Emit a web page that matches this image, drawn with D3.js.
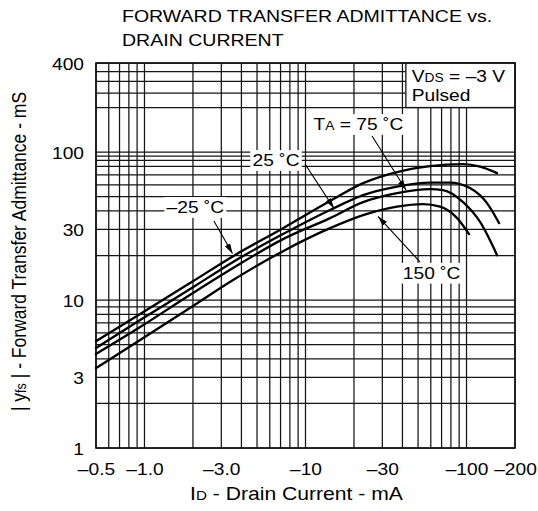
<!DOCTYPE html>
<html><head><meta charset="utf-8">
<script src="https://cdn.jsdelivr.net/npm/d3@7"></script>
<style>body{margin:0;background:#fff} svg{display:block}</style>
</head><body>
<svg id="c" width="538" height="511"></svg>
<script>
// ---------- data ----------
const xTicks = [0.5, 1, 3, 10, 30, 100, 200];
const xTickLabels = ["\u20130.5", "\u20131.0", "\u20133.0", "\u201310", "\u201330", "\u2013100", "\u2013200"];
const yTicks = [1, 3, 10, 30, 100, 400];
const yTickLabels = ["1", "3", "10", "30", "100", "400"];
const xGrid = [0.5,0.6,0.7,0.8,0.9,1,2,3,4,5,6,7,8,9,10,20,30,40,50,60,70,80,90,100,200];
const yGrid = [1,2,3,4,5,6,7,8,9,10,20,30,40,50,60,70,80,88,94,100,200,250,300,350,400];

const id_m25  = [0.5, 0.94, 2.0, 3.55, 7.25, 14.2, 22.8, 37, 59.4, 95.2, 121.4, 154.8];
const yfs_m25 = [5.28, 8.04, 13.4, 19.8, 30.6, 46.7, 61.7, 73.3, 80.4, 83.0, 79.8, 72.1];
const id_25   = [0.5, 0.94, 2.0, 3.55, 7.25, 14.2, 22.8, 37, 59.4, 79, 105, 134, 159.3];
const yfs_25  = [4.74, 7.33, 12.2, 18.1, 27.9, 40.6, 51.2, 58.5, 62.2, 62.2, 57.1, 45.2, 33.1];
const id_75   = [0.5, 0.94, 2.0, 3.55, 7.25, 14.2, 22.8, 37, 59.4, 71.5, 95.2, 121.4, 154.8];
const yfs_75  = [4.32, 6.57, 11.15, 16.45, 25.8, 35.8, 45.9, 52.8, 56.2, 55.4, 45.9, 33.7, 20.1];
const id_150  = [0.5, 0.94, 2.0, 3.55, 7.25, 14.2, 22.8, 37, 53.7, 68.5, 87.4, 103.7];
const yfs_150 = [3.47, 5.37, 9.11, 13.65, 21.4, 30.6, 37.5, 42.8, 44.5, 42.8, 35.8, 27.9];

// annotations (data coordinates)
const labelParts = [
  [{t:"\u201325 \u02DAC"}],
  [{t:"25 \u02DAC"}],
  [{t:"T"},{t:"A",sub:true},{t:" = 75 \u02DAC"}],
  [{t:"150 \u02DAC"}]
];
const labelId  = [2.07, 6.56, 21.3, 60.7];
const labelYfs = [38.7, 80.4, 140.8, 13.9];
const arrowFromId  = [2.70, 9.93, 25.9, 51.5];
const arrowFromYfs = [34.2, 83.0, 128.3, 18.06];
const arrowToId    = [3.52, 15.0, 42.1, 28.2];
const arrowToYfs   = [20.6, 41.8, 55.4, 36.7];
const legendBoxId  = [42, 200];
const legendBoxYfs = [200, 400];
const legendTextId = 45.7;
const legendTextYfs = [298.5, 221.1];

// ---------- setup ----------
const W = 538, H = 511;
const M = {l: 96, r: 515, t: 63, b: 448};
const SX = 1.13;
const FONT = "'Liberation Sans', Arial, Helvetica, sans-serif";
const svg = d3.select("#c");
const x = d3.scaleLog().domain([0.5, 200]).range([M.l, M.r]);
const y = d3.scaleLog().domain([1, 400]).range([M.b, M.t]);

svg.append("rect").attr("width", W).attr("height", H).attr("fill", "#fff");

function stext(parent, px, py, parts, size, anchor) {
  const g = parent.append("g").attr("transform", `translate(${px},${py}) scale(${SX},1)`);
  const t = g.append("text").attr("font-family", FONT).attr("font-size", size)
    .attr("text-anchor", anchor || "start").attr("fill", "#000");
  parts.forEach(p => {
    const ts = t.append("tspan").text(p.t);
    if (p.sub) ts.attr("font-size", size * 0.72);
  });
  return {g, t};
}

// ---------- grid ----------
const grid = svg.append("g").attr("stroke", "#151515").attr("stroke-width", 1.25);
grid.selectAll("line.gv").data(xGrid).join("line").attr("class", "gv")
  .attr("x1", d => x(d)).attr("x2", d => x(d)).attr("y1", M.t).attr("y2", M.b);
grid.selectAll("line.gh").data(yGrid).join("line").attr("class", "gh")
  .attr("y1", d => y(d)).attr("y2", d => y(d)).attr("x1", M.l).attr("x2", M.r);

// legend box
svg.append("rect")
  .attr("x", x(legendBoxId[0])).attr("y", y(legendBoxYfs[1]))
  .attr("width", x(legendBoxId[1]) - x(legendBoxId[0]))
  .attr("height", y(legendBoxYfs[0]) - y(legendBoxYfs[1]))
  .attr("fill", "#fff").attr("stroke", "#151515").attr("stroke-width", 1.3);
stext(svg, x(legendTextId), y(legendTextYfs[0]), [{t:"V"},{t:"DS",sub:true},{t:" = \u20133 V"}], 17);
stext(svg, x(legendTextId), y(legendTextYfs[1]), [{t:"Pulsed"}], 17);

// frame
svg.append("rect").attr("x", M.l).attr("y", M.t).attr("width", M.r - M.l).attr("height", M.b - M.t)
  .attr("fill", "none").attr("stroke", "#111").attr("stroke-width", 1.6);

// ---------- curves ----------
const series = [
  d3.zip(id_m25, yfs_m25), d3.zip(id_25, yfs_25), d3.zip(id_75, yfs_75), d3.zip(id_150, yfs_150)
];
const line = d3.line().x(d => x(d[0])).y(d => y(d[1])).curve(d3.curveMonotoneX);
svg.append("g").selectAll("path").data(series).join("path")
  .attr("d", line).attr("fill", "none").attr("stroke", "#000").attr("stroke-width", 2.3)
  .attr("stroke-linecap", "round");

// ---------- labels ----------
labelParts.forEach((parts, i) => {
  const {g, t} = stext(svg, x(labelId[i]), y(labelYfs[i]), parts, 17, "middle");
  const bb = t.node().getBBox();
  g.insert("rect", "text").attr("x", bb.x - 2).attr("y", bb.y - 1)
    .attr("width", bb.width + 4).attr("height", bb.height + 2).attr("fill", "#fff");
});

// arrows
const defs = svg.append("defs");
defs.append("marker").attr("id", "ah").attr("viewBox", "0 0 10 6").attr("refX", 10).attr("refY", 3)
  .attr("markerUnits", "userSpaceOnUse").attr("markerWidth", 10).attr("markerHeight", 6)
  .attr("orient", "auto").append("path").attr("d", "M0,0 L10,3 L0,6 Z").attr("fill", "#000");
svg.append("g").selectAll("line").data(d3.range(arrowFromId.length)).join("line")
  .attr("x1", i => x(arrowFromId[i])).attr("y1", i => y(arrowFromYfs[i]))
  .attr("x2", i => x(arrowToId[i])).attr("y2", i => y(arrowToYfs[i]))
  .attr("stroke", "#000").attr("stroke-width", 1.1).attr("marker-end", "url(#ah)");

// ---------- axes ----------
const xAxis = svg.append("g").attr("transform", `translate(0,${M.b})`)
  .call(d3.axisBottom(x).tickValues(xTicks).tickFormat((d, i) => xTickLabels[i]).tickSize(0).tickPadding(15));
xAxis.select(".domain").remove();
xAxis.selectAll("text").attr("font-family", FONT).attr("font-size", 17).attr("fill", "#000")
  .attr("transform", `scale(${SX},1)`);

const yAxis = svg.append("g").attr("transform", `translate(${M.l},0)`)
  .call(d3.axisLeft(y).tickValues(yTicks).tickFormat((d, i) => yTickLabels[i]).tickSize(0));
yAxis.select(".domain").remove();
yAxis.selectAll("text").attr("font-family", FONT).attr("font-size", 17).attr("fill", "#000")
  .attr("x", -12 / SX).attr("dy", "0.36em").attr("transform", `scale(${SX},1)`);

// ---------- titles ----------
stext(svg, 122, 22, [{t:"FORWARD TRANSFER ADMITTANCE vs."}], 17.3);
stext(svg, 122, 46, [{t:"DRAIN CURRENT"}], 17.3);
stext(svg, 296.5, 500, [{t:"I"},{t:"D",sub:true},{t:" - Drain Current - mA"}], 18.7, "middle");

const yt = svg.append("g").attr("transform", `translate(25.5,251.5) scale(${SX},1) rotate(-90)`)
  .append("text").attr("font-family", FONT).attr("font-size", 17.5).attr("text-anchor", "middle").attr("fill", "#000");
yt.append("tspan").text("| y");
yt.append("tspan").text("fs").attr("font-size", 17.5 * 0.72);
yt.append("tspan").text(" | - Forward Transfer Admittance - mS");
</script>
</body></html>
